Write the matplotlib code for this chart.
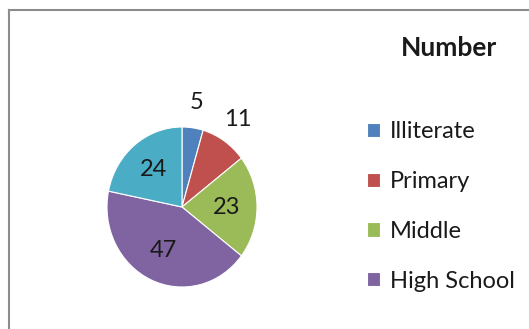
import matplotlib.pyplot as plt
from matplotlib.lines import Line2D
import numpy as np

plt.rcParams['font.family'] = ['Lato', 'DejaVu Sans']

categories = ['Illiterate', 'Primary', 'Middle', 'High School', 'Other']
values = [5, 11, 23, 47, 24]
colors = ['#4F81BD', '#C0504D', '#9BBB59', '#8064A2', '#4BACC6']

W, H = 529, 329
fig = plt.figure(figsize=(W / 100, H / 100), dpi=100)

# pie axes placed in pixel terms (centre ~ (182, 207), slightly taller than wide)
cx, cy, rx, ry = 182, 207, 75, 80
ax = fig.add_axes([(cx - rx) / W, (H - cy - ry) / H, 2 * rx / W, 2 * ry / H])
wedges, _ = ax.pie(values, colors=colors, startangle=90, counterclock=False,
                   radius=1, wedgeprops=dict(linewidth=0.8, edgecolor='white'))
ax.set_aspect('auto')
ax.set_xlim(-1, 1)
ax.set_ylim(-1, 1)

for w, v in zip(wedges, values):
    mid = np.deg2rad((w.theta1 + w.theta2) / 2)
    d = 1.32 if v < 15 else 0.6
    ax.text(d * np.cos(mid), d * np.sin(mid), str(v), ha='center', va='center',
            fontsize=17, color='#1a1a1a', clip_on=False)

# legend (the fifth entry is cut off in the original)
leg = fig.legend(wedges[:4], categories[:4], loc='upper left',
                 bbox_to_anchor=(346 / W, 1 - 100 / H), frameon=False,
                 fontsize=17, handlelength=0.55, handleheight=0.55,
                 handletextpad=0.4, labelspacing=1.22)
for t in leg.get_texts():
    t.set_color('#1a1a1a')

fig.text(449 / W, 1 - 48 / H, 'Number', ha='center', va='center',
         fontsize=19, fontweight='bold', color='#1a1a1a')

# chart border (only top and left visible)
fig.add_artist(Line2D([9 / W, 1], [1 - 10 / H, 1 - 10 / H], color='#8c8c8c', lw=1.5))
fig.add_artist(Line2D([9 / W, 9 / W], [0, 1 - 10 / H], color='#8c8c8c', lw=1.5))

fig.savefig('out.png', dpi=100)
